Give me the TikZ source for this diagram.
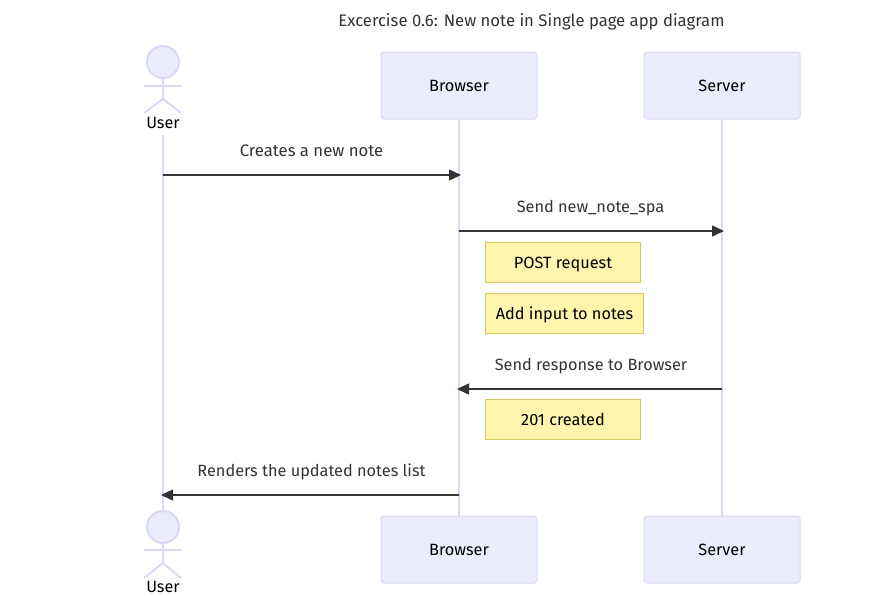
\documentclass[tikz,border=0pt]{standalone}
\usepackage{fontspec}
\setmainfont{Fira Sans}
\usepackage{xcolor}
\usetikzlibrary{arrows.meta}

\definecolor{actorfill}{HTML}{ECECFF}
\definecolor{actorline}{HTML}{DDD6F5}
\definecolor{notefill}{HTML}{FFF5AD}
\definecolor{noteline}{HTML}{CFC95F}
\definecolor{msgline}{HTML}{333333}

\tikzset{
	every node/.style={text height=15pt, text depth=3pt},
	actorbox/.style={draw=actorline, fill=actorfill, line width=1pt, rounded corners=3pt, minimum width=156pt, minimum height=67pt, inner sep=0pt, text=black},
	notebox/.style={draw=noteline, fill=notefill, line width=1pt, minimum height=40pt, inner sep=0pt, text=black},
	lifeline/.style={draw=actorline, line width=2pt},
	stickman/.style={draw=actorline, line width=2pt},
	message/.style={draw=msgline, line width=1.5pt, -{Triangle[length=12pt, width=11pt]}},
	msglabel/.style={text=msgline, inner sep=0pt},
	actorlabel/.style={text=black, inner sep=0pt}
}

\begin{document}
\begin{tikzpicture}[x=1pt, y=-1pt, font=\fontsize{16.3}{19}\selectfont]
	\useasboundingbox (0,0) rectangle (885,595);
	\def\userx{163};
	\def\browserx{459};
	\def\serverx{722};
	
	\node [msglabel, font=\fontsize{16.7}{19}\selectfont] (title) at (531.5,20) {Excercise 0.6: New note in Single page app diagram};
	
	% lifelines
	\coordinate (usertop) at (\userx,135);
	\coordinate (userend) at (\userx,511);
	\draw [lifeline] (usertop) -- (userend);
	
	\node [actorbox] (browsertop) at (\browserx,85.5) {Browser};
	\node [actorbox] (browserend) at (\browserx,549.5) {Browser};
	\node [actorbox] (servertop) at (\serverx,85.5) {Server};
	\node [actorbox] (serverend) at (\serverx,549.5) {Server};
	\draw [lifeline] (browsertop) -- (browserend);
	\draw [lifeline] (servertop) -- (serverend);
	
	% top actor
	\node [stickman, circle, fill=actorfill, minimum size=32pt, inner sep=0pt] (headtop) at (\userx,62) {};
	\coordinate (hiptop) at (\userx,99);
	\draw [stickman] (headtop) -- (hiptop);
	\draw [stickman] (144,86) -- (182,86);
	\draw [stickman] (144,113) -- (hiptop) -- (181,113);
	\node [actorlabel] (usertoplabel) at (\userx,122) {User};
	
	% bottom actor
	\node [stickman, circle, fill=actorfill, minimum size=32pt, inner sep=0pt] (headend) at (\userx,527) {};
	\coordinate (hipend) at (\userx,563);
	\draw [stickman] (headend) -- (hipend);
	\draw [stickman] (144,550) -- (182,550);
	\draw [stickman] (144,578) -- (hipend) -- (181,578);
	\node [actorlabel] (userendlabel) at (\userx,586) {User};
	
	% messages
	\coordinate (a1) at (\userx,175);
	\coordinate (b1) at (461,175);
	\draw [message] (a1) -- (b1);
	\node [msglabel, font=\fontsize{16.7}{19}\selectfont] (create) at (311.5,150) {Creates a new note};
	
	\coordinate (a2) at (\browserx,231);
	\coordinate (b2) at (724,231);
	\draw [message] (a2) -- (b2);
	\node [msglabel] (send) at (590.5,206) {Send new\_note\_spa};
	
	\node [notebox, minimum width=155.5pt] (post) at (563,262.3) {POST request};
	\node [notebox, minimum width=158.5pt] (add) at (564.5,313.3) {Add input to notes};
	
	\coordinate (a3) at (\serverx,389);
	\coordinate (b3) at (457,389);
	\draw [message] (a3) -- (b3);
	\node [msglabel] (response) at (591,364) {Send response to Browser};
	
	\node [notebox, minimum width=155.5pt] (created) at (563,419.8) {201 created};
	
	\coordinate (a4) at (\browserx,495);
	\coordinate (b4) at (161,495);
	\draw [message] (a4) -- (b4);
	\node [msglabel] (render) at (311.5,470) {Renders the updated notes list};
\end{tikzpicture}
\end{document}
